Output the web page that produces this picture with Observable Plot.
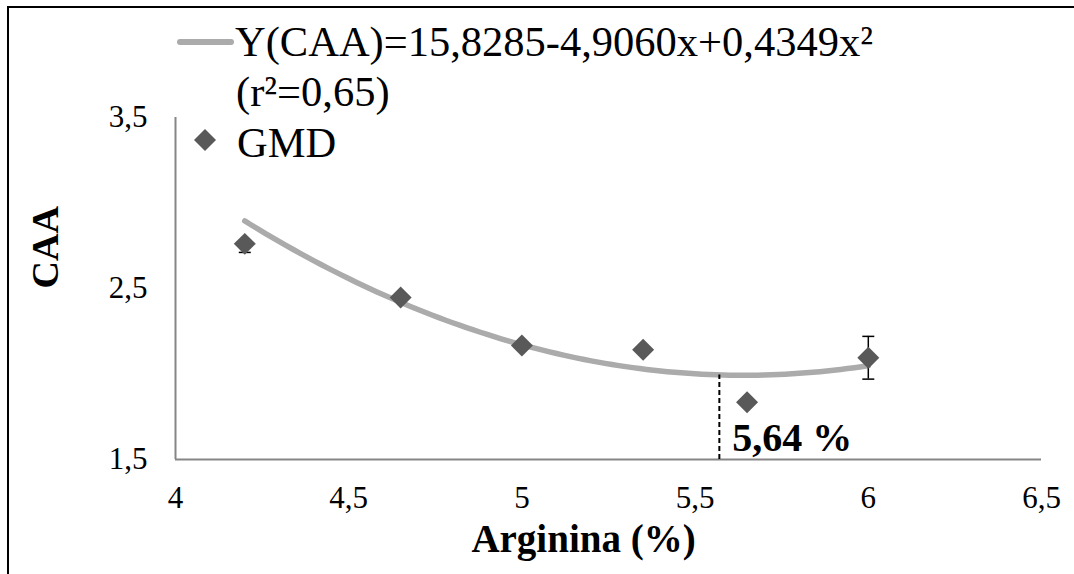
<!DOCTYPE html>
<html>
<head>
<meta charset="utf-8">
<script src="https://cdn.jsdelivr.net/npm/d3@7"></script>
<script src="https://cdn.jsdelivr.net/npm/@observablehq/plot@0.6"></script>
<style>
  html, body { margin: 0; padding: 0; background: #fff; }
  #wrap { position: relative; width: 1074px; height: 574px; overflow: hidden; font-family: "Liberation Serif", "Times New Roman", serif; }
  #frame { position: absolute; left: 7px; top: 6px; width: 1200px; height: 800px; border-top: 2px solid #000; border-left: 2px solid #000; pointer-events: none; }
  #chart { position: absolute; left: 0; top: 0; }
  .leg { position: absolute; font-size: 42.5px; line-height: 42px; color: #000; white-space: nowrap; font-family: "Liberation Serif", "Times New Roman", serif; }
</style>
</head>
<body>
<div id="wrap">
  <div id="chart"></div>
  <div id="frame"></div>
  <svg style="position:absolute;left:0;top:0" width="300" height="170">
    <line x1="180" y1="42" x2="231" y2="42" stroke="#ababab" stroke-width="6" stroke-linecap="round"></line>
    <path d="M205,129 L216,140 L205,151 L194,140 Z" fill="#595959"></path>
  </svg>
  <div class="leg" id="legEq" style="left:235px;top:20.5px"></div>
  <div class="leg" id="legR" style="left:236px;top:70.5px"></div>
  <div class="leg" id="legG" style="left:237px;top:121.5px"></div>
</div>
<script>
// ---- data ----
const arginina = [4.2, 4.65, 5.0, 5.35, 5.65, 6.0];
const caa      = [2.761, 2.447, 2.167, 2.142, 1.835, 2.095];
const erroInf  = [0.05, 0, 0, 0, 0, 0.125];
const erroSup  = [0.02, 0, 0, 0, 0, 0.125];

// regression (quadratic) coefficients from the legend: Y = a + b x + c x²
const coef = [15.8285, -4.9060, 0.4349];
const curveRange = [4.2, 6.0];
const optimoX = [5.57];           // position of the dashed marker line
const optimoLabel = ["5,64 %"];

const xTicks = [4, 4.5, 5, 5.5, 6, 6.5];
const xTickLabels = ["4", "4,5", "5", "5,5", "6", "6,5"];
const yTicks = [1.5, 2.5, 3.5];
const yTickLabels = ["1,5", "2,5", "3,5"];

const legendEquation = "Y(CAA)=15,8285-4,9060x+0,4349x²";
const legendR2 = "(r²=0,65)";
const legendSeries = "GMD";
const xTitle = "Arginina (%)";
const yTitle = "CAA";

// ---- derived tables ----
const poly = x => coef[0] + coef[1] * x + coef[2] * x * x;
const points = arginina.map((x, i) => ({x, y: caa[i], lo: caa[i] - erroInf[i], hi: caa[i] + erroSup[i], e: erroInf[i] + erroSup[i]}));
const bars = points.filter(d => d.e > 0);
const curve = d3.range(curveRange[0], curveRange[1] + 1e-9, 0.02).map(x => ({x, y: poly(x)}));
const marker = optimoX.map((x, i) => ({x, y1: 1.5, y2: poly(x), label: optimoLabel[i]}));

const capSymbol = {
  draw(context, size) {
    const w = 6;
    context.moveTo(-w, 0);
    context.lineTo(w, 0);
  }
};

document.getElementById("legEq").textContent = legendEquation;
document.getElementById("legR").textContent = legendR2;
document.getElementById("legG").textContent = legendSeries;

const serif = "'Liberation Serif', 'Times New Roman', serif";

const chart = Plot.plot({
  width: 1074,
  height: 574,
  marginLeft: 175,
  marginRight: 33,
  marginTop: 117,
  marginBottom: 115,
  style: {fontFamily: serif, fontSize: "31px", color: "#000", background: "transparent", overflow: "visible"},
  x: {domain: [4, 6.5]},
  y: {domain: [1.5, 3.5]},
  marks: [
    Plot.axisX({ticks: xTicks, tickFormat: d => xTickLabels[xTicks.indexOf(d)], tickSize: 0, tickPadding: 26, label: null, fontSize: 31, fontFamily: serif}),
    Plot.axisY({ticks: yTicks, tickFormat: d => yTickLabels[yTicks.indexOf(d)], tickSize: 0, tickPadding: 28, label: null, fontSize: 31, fontFamily: serif}),
    Plot.ruleX([4], {stroke: "#868686", strokeWidth: 2}),
    Plot.ruleY([1.5], {stroke: "#868686", strokeWidth: 2}),
    Plot.line(curve, {x: "x", y: "y", stroke: "#ababab", strokeWidth: 5.5, strokeLinecap: "round"}),
    Plot.ruleX(marker, {x: "x", y1: "y1", y2: "y2", stroke: "#000", strokeWidth: 2, strokeDasharray: "5,3"}),
    Plot.ruleX(bars, {x: "x", y1: "lo", y2: "hi", stroke: "#000", strokeWidth: 1.5}),
    Plot.dot(bars, {x: "x", y: "lo", symbol: capSymbol, stroke: "#000", strokeWidth: 1.5, r: 6}),
    Plot.dot(bars, {x: "x", y: "hi", symbol: capSymbol, stroke: "#000", strokeWidth: 1.5, r: 6}),
    Plot.dot(points, {x: "x", y: "y", symbol: "diamond2", r: 9.9, fill: "#595959", stroke: "none"}),
    Plot.text(marker, {x: "x", y: "y1", text: "label", textAnchor: "start", lineAnchor: "bottom", dx: 13, dy: -9, fontSize: 40, fontWeight: "bold", fill: "#000", fontFamily: serif}),
    Plot.text([yTitle], {text: d => d, frameAnchor: "left", dx: -130, rotate: -90, fontSize: 38, fontWeight: "bold", fill: "#000", fontFamily: serif}),
    Plot.text([xTitle], {text: d => d, frameAnchor: "bottom", dx: -25, dy: 92, fontSize: 39, fontWeight: "bold", fill: "#000", fontFamily: serif})
  ]
});
document.getElementById("chart").appendChild(chart);
</script>
</body>
</html>
